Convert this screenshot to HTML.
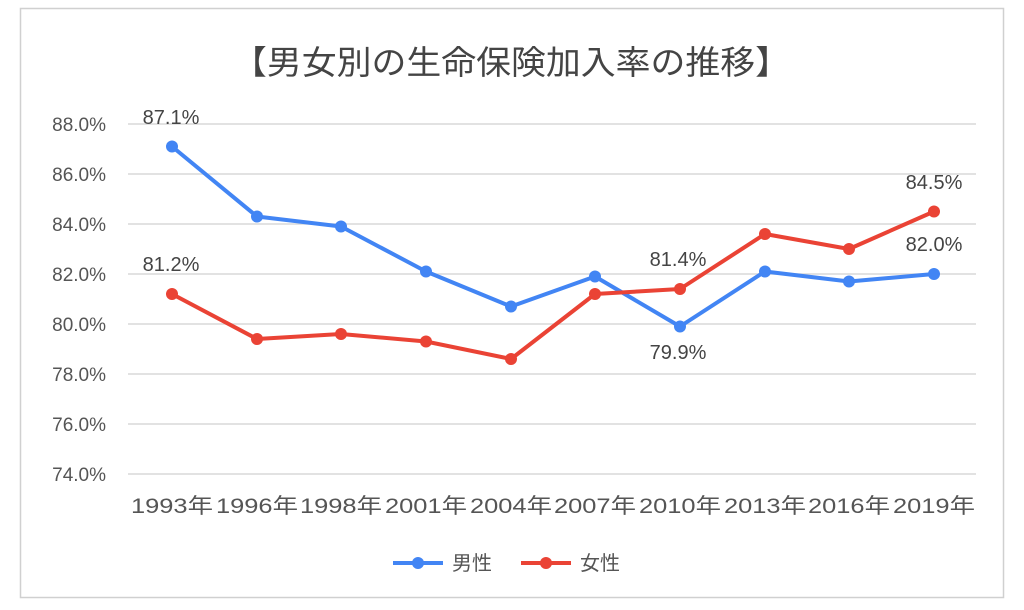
<!DOCTYPE html>
<html><head><meta charset="utf-8"><style>
body{margin:0;background:#fff;}
svg text{font-family:"Liberation Sans","Noto Sans CJK JP",sans-serif;}
</style></head><body>
<svg width="1024" height="605" viewBox="0 0 1024 605" xmlns="http://www.w3.org/2000/svg">
<rect x="0" y="0" width="1024" height="605" fill="#fff"/>
<rect x="20.5" y="8.5" width="983" height="589" fill="#fff" stroke="#d0d0d0" stroke-width="1.5"/>
<text x="232" y="74" font-size="33" fill="#444" textLength="558" lengthAdjust="spacingAndGlyphs">【男女別の生命保険加入率の推移】</text>
<g stroke="#d9d9d9" stroke-width="1.5">
<line x1="128" x2="976" y1="124" y2="124"/>
<line x1="128" x2="976" y1="174" y2="174"/>
<line x1="128" x2="976" y1="224" y2="224"/>
<line x1="128" x2="976" y1="274" y2="274"/>
<line x1="128" x2="976" y1="324" y2="324"/>
<line x1="128" x2="976" y1="374" y2="374"/>
<line x1="128" x2="976" y1="424" y2="424"/>
<line x1="128" x2="976" y1="474" y2="474"/>
</g>
<g font-size="19" fill="#555" text-anchor="end">
<text x="106" y="131">88.0%</text>
<text x="106" y="181">86.0%</text>
<text x="106" y="231">84.0%</text>
<text x="106" y="281">82.0%</text>
<text x="106" y="331">80.0%</text>
<text x="106" y="381">78.0%</text>
<text x="106" y="431">76.0%</text>
<text x="106" y="481">74.0%</text>
</g>
<g font-size="21" fill="#555">
<text x="131" y="513" textLength="82" lengthAdjust="spacingAndGlyphs">1993年</text>
<text x="216" y="513" textLength="82" lengthAdjust="spacingAndGlyphs">1996年</text>
<text x="300" y="513" textLength="82" lengthAdjust="spacingAndGlyphs">1998年</text>
<text x="385" y="513" textLength="82" lengthAdjust="spacingAndGlyphs">2001年</text>
<text x="470" y="513" textLength="82" lengthAdjust="spacingAndGlyphs">2004年</text>
<text x="554" y="513" textLength="82" lengthAdjust="spacingAndGlyphs">2007年</text>
<text x="639" y="513" textLength="82" lengthAdjust="spacingAndGlyphs">2010年</text>
<text x="724" y="513" textLength="82" lengthAdjust="spacingAndGlyphs">2013年</text>
<text x="808" y="513" textLength="82" lengthAdjust="spacingAndGlyphs">2016年</text>
<text x="893" y="513" textLength="82" lengthAdjust="spacingAndGlyphs">2019年</text>
</g>
<polyline fill="none" stroke="#4285f4" stroke-width="4" stroke-linejoin="round" points="172,146.5 257,216.5 341,226.5 426,271.5 511,306.5 595,276.5 680,326.5 765,271.5 849,281.5 934,274"/>
<polyline fill="none" stroke="#ea4335" stroke-width="4" stroke-linejoin="round" points="172,294 257,339 341,334 426,341.5 511,359 595,294 680,289 765,234 849,249 934,211.5"/>
<g fill="#4285f4">
<circle cx="172" cy="146.5" r="6"/><circle cx="257" cy="216.5" r="6"/><circle cx="341" cy="226.5" r="6"/><circle cx="426" cy="271.5" r="6"/><circle cx="511" cy="306.5" r="6"/><circle cx="595" cy="276.5" r="6"/><circle cx="680" cy="326.5" r="6"/><circle cx="765" cy="271.5" r="6"/><circle cx="849" cy="281.5" r="6"/><circle cx="934" cy="274" r="6"/>
</g>
<g fill="#ea4335">
<circle cx="172" cy="294" r="6"/><circle cx="257" cy="339" r="6"/><circle cx="341" cy="334" r="6"/><circle cx="426" cy="341.5" r="6"/><circle cx="511" cy="359" r="6"/><circle cx="595" cy="294" r="6"/><circle cx="680" cy="289" r="6"/><circle cx="765" cy="234" r="6"/><circle cx="849" cy="249" r="6"/><circle cx="934" cy="211.5" r="6"/>
</g>
<g font-size="20" fill="#444" text-anchor="middle">
<text x="171" y="124">87.1%</text>
<text x="171" y="271">81.2%</text>
<text x="678" y="266">81.4%</text>
<text x="678" y="359">79.9%</text>
<text x="934" y="189">84.5%</text>
<text x="934" y="251">82.0%</text>
</g>
<line x1="393" x2="443" y1="563" y2="563" stroke="#4285f4" stroke-width="4"/>
<circle cx="418" cy="563" r="6" fill="#4285f4"/>
<text x="452" y="570" font-size="20" fill="#555">男性</text>
<line x1="521" x2="571" y1="563" y2="563" stroke="#ea4335" stroke-width="4"/>
<circle cx="546" cy="563" r="6" fill="#ea4335"/>
<text x="580" y="570" font-size="20" fill="#555">女性</text>
</svg>
</body></html>
